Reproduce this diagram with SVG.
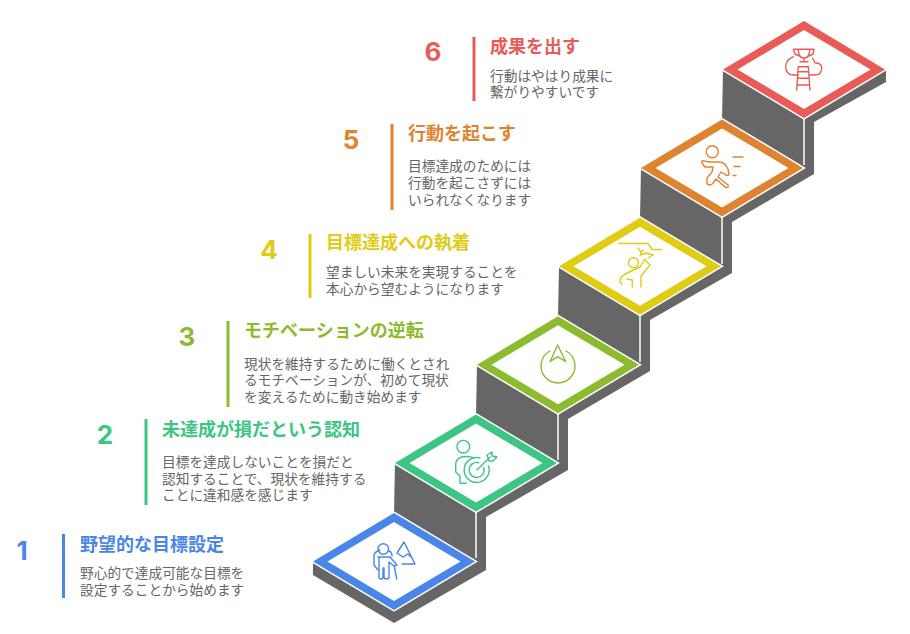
<svg xmlns="http://www.w3.org/2000/svg" width="910" height="634" viewBox="0 0 910 634">
<style>
text{font-family:"Liberation Sans","Noto Sans CJK JP",sans-serif}
.num{font-family:"Inter","Roboto",sans-serif;font-weight:700;font-size:26px;text-anchor:middle}
.t{font-weight:700;font-size:18px}
.b{font-size:13.7px;fill:#666}
.top{stroke:#fff;stroke-width:3;paint-order:stroke}
.in{fill:#fff}
.ic{fill:none;stroke-width:1.4;stroke-linecap:round;stroke-linejoin:round}
.c1{fill:#4a86e8}.c2{fill:#3cc583}.c3{fill:#8dbb2f}.c4{fill:#e0cb15}.c5{fill:#de8431}.c6{fill:#e85b57}
.s1{stroke:#4a86e8}.s2{stroke:#3cc583}.s3{stroke:#8dbb2f}.s4{stroke:#e0cb15}.s5{stroke:#de8431}.s6{stroke:#e85b57}
.w{stroke:#fff;stroke-width:1.5;fill:none}
</style>
<g id="connectors">
<polygon fill="#666" points="313,562 313,575 394,623 486,570 486,517 568,470 568,419 650,371 650,320 732,273 732,222 814,174 814,122 886,82 886,70 804,21 723,69 722,120 641,168 640,218 559,266 558,316 477,365 476,415 395,463 394,513"/>
<path class="w" d="M476 512V558M558 413V460M640 315V362M722 217V264M804 118V165"/>
</g>
<g id="node1">
<polygon class="c1 top" points="313,561.5 394,513 475,561.5 394,610"/>
<polygon class="in" points="327.5,561.5 394,522 460.5,561.5 394,601"/>
<g class="ic s1">
<circle cx="383.3" cy="549" r="5.300"/>
<path d="M380 550L376 552Q374 553 374 556V565L378 570M388 551L391 552Q392 553 392 556"/>
<path d="M378 557H390L397 565L394 566L389 562V577Q389 579 387 579Q384 579 384 577V568H383V577Q383 579 381 579Q379 579 379 577V557"/>
<path d="M394.300 566L396.700 579"/>
<path d="M397 553L404 542L415 564H402M397 553L403 557L408 554L412 558"/>
</g>
<text class="num c1" x="22" y="560">1</text>
<rect class="c1" x="62" y="534" width="3" height="64"/>
<text class="t c1" x="80" y="551">野望的な目標設定</text>
<text class="b" x="80" y="578">野心的で達成可能な目標を<tspan x="80" y="595">設定することから始めます</tspan></text>
</g>
<g id="node2">
<polygon class="c2 top" points="395,463 476,414.6 557,463 476,511.6"/>
<polygon class="in" points="409.5,463.1 476,423.6 542.5,463.1 476,502.6"/>
<g class="ic s2">
<circle cx="463.3" cy="446.700" r="6.300"/>
<path d="M474 458Q470 456 463 456.700Q456 458 455.700 464V472L460 476V483.300H466"/>
<path d="M488.400 465.700A12.500 12.500 0 1 1 479.900 457.900M483.700 467.400A7.500 7.500 0 1 1 478.600 462.700"/>
<path d="M477 470L490 457M487 455L492 452V456L497 457L493 461H489Z"/>
</g>
<text class="num c2" x="105" y="444">2</text>
<rect class="c2" x="144.500" y="419" width="3" height="86"/>
<text class="t c2" x="162" y="436">未達成が損だという認知</text>
<text class="b" x="162" y="467">目標を達成しないことを損だと<tspan x="162" y="484">認知することで、現状を維持する</tspan><tspan x="162" y="500">ことに違和感を感じます</tspan></text>
</g>
<g id="node3">
<polygon class="c3 top" points="477,364.7 558,316.2 639,364.7 558,413.2"/>
<polygon class="in" points="491.500,364.700 558,325.200 624.500,364.700 558,404.200"/>
<g class="ic s3">
<path d="M550 351A17 17 0 1 0 566 351"/>
<path d="M557.700 345L550 361.700L557.700 356.700L565.700 361.700Z"/>
</g>
<text class="num c3" x="187" y="346">3</text>
<rect class="c3" x="226.500" y="321" width="3" height="86"/>
<text class="t c3" x="244" y="337">モチベーションの逆転</text>
<text class="b" x="244" y="369">現状を維持するために働くとされ<tspan x="244" y="385">るモチベーションが、初めて現状</tspan><tspan x="244" y="402">を変えるために動き始めます</tspan></text>
</g>
<g id="node4">
<polygon class="c4 top" points="559,266.300 640,217.800 721,266.300 640,314.800"/>
<polygon class="in" points="573.500,266.300 640,226.800 706.500,266.300 640,305.800"/>
<g class="ic s4">
<path d="M619 243.500H648L652 249.500H661.500"/>
<path d="M638 248L641 252L643 250L640 255L646 253L653 255L648 258"/>
<circle cx="633.500" cy="262.700" r="5"/>
<path d="M645 259L640 267L627 273Q619 277 620 282L622 284M627 279L632.300 280V287M645 260L650 265L641 276V287"/>
</g>
<text class="num c4" x="269" y="259">4</text>
<rect class="c4" x="308.500" y="234" width="3" height="64"/>
<text class="t c4" x="326" y="249">目標達成への執着</text>
<text class="b" x="326" y="277">望ましい未来を実現することを<tspan x="326" y="294">本心から望むようになります</tspan></text>
</g>
<g id="node5">
<polygon class="c5 top" points="641,167.900 722,119.400 803,167.900 722,216.400"/>
<polygon class="in" points="655.500,167.900 722,128.400 788.500,167.900 722,207.400"/>
<g class="ic s5">
<circle cx="712.300" cy="151.700" r="6"/>
<path d="M702 163Q701 160 704 161L710 162H719Q725 162 728 169L729 174Q729 176 726 175L721 172L718 177L728 185Q729 189 725 187L716 179L713 183Q712 185 710 185L707 184M702 163L705 167H713L712 172L707 178V184"/>
<path d="M733 157H743M734 166.500H740M733 175.500H736"/>
</g>
<text class="num c5" x="351" y="149">5</text>
<rect class="c5" x="390.500" y="124" width="3" height="86"/>
<text class="t c5" x="408" y="140">行動を起こす</text>
<text class="b" x="408" y="171">目標達成のためには<tspan x="408" y="188">行動を起こさずには</tspan><tspan x="408" y="205">いられなくなります</tspan></text>
</g>
<g id="node6">
<polygon class="c6 top" points="723,69.500 804,21 885,69.500 804,118"/>
<polygon class="in" points="737.500,69.500 804,30 870.500,69.500 804,109"/>
<g class="ic s6">
<path d="M798 49.300H810L809 54Q808 58 804 58Q800 58 799 54ZM798 49.300H793.300L795 54L799 56M810 49.300H814L813 54L809 56M804 58V61.700M800 61.700H808"/>
<path d="M798.300 66.700L796.700 90M808.300 66.700L810 90M798.300 66.700H808.300M798 71.700H808.600M797.500 78.300H809M797.200 85H809.600"/>
<path d="M793.300 56.700Q785.700 60 785.700 66.700Q786 75 793.300 75H798.300M812.700 58.300L815 62.700Q821.700 63 821.700 68Q821.700 75 815 75H810"/>
</g>
<text class="num c6" x="433" y="61">6</text>
<rect class="c6" x="472.500" y="37" width="3" height="64"/>
<text class="t c6" x="490" y="53">成果を出す</text>
<text class="b" x="490" y="81">行動はやはり成果に<tspan x="490" y="97">繋がりやすいです</tspan></text>
</g>
</svg>
